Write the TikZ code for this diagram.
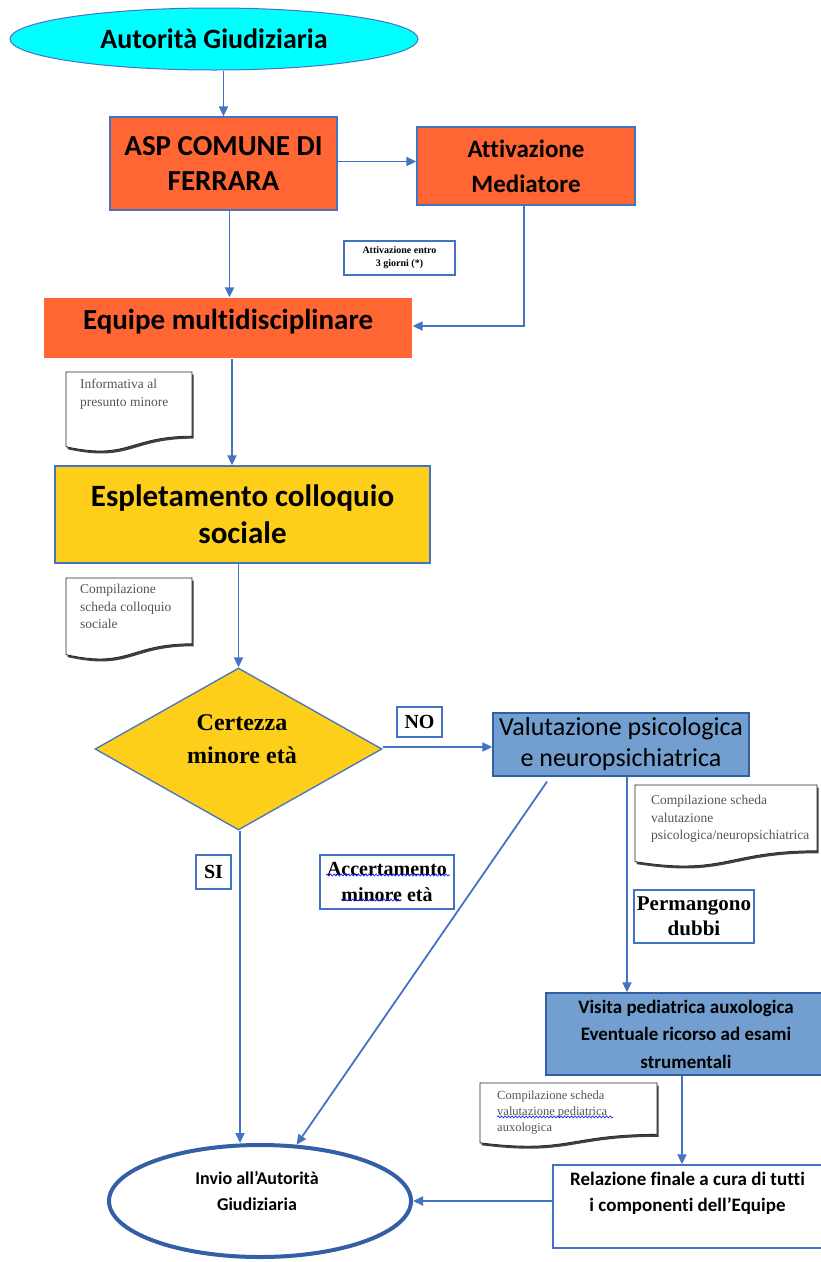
\documentclass[tikz,border=0pt]{standalone}
\usepackage{fontspec}
\setmainfont{Carlito}[Ligatures=NoCommon]
\newfontfamily\tnr{Liberation Serif}
\usetikzlibrary{arrows.meta,shapes.geometric,decorations.pathmorphing,calc}
\definecolor{lineblue}{RGB}{68,114,196}
\definecolor{darkblue}{RGB}{50,95,165}
\definecolor{cyanf}{RGB}{0,255,255}
\definecolor{orangef}{RGB}{255,102,51}
\definecolor{yellowf}{RGB}{253,206,26}
\definecolor{steelf}{RGB}{114,159,207}
\definecolor{doctext}{RGB}{85,85,85}
\definecolor{squigblue}{RGB}{30,40,230}
\newcommand{\fs}[2]{\fontsize{#1}{#2}\selectfont}
\newcommand{\docshape}[4]{%
  \fill[black!75] ({#1+1.5},{#2+2.5}) -- ({#1+#3+1.5},{#2+2.5}) -- ({#1+#3+1.5},{#2+0.802*#4+2.5})
    .. controls ({#1+0.5*#3+1.5},{#2+0.802*#4+2.5}) and ({#1+0.5*#3+1.5},{#2+1.107*#4+2.5}) .. ({#1+1.5},{#2+0.934*#4+2.5}) -- cycle;
  \draw[fill=white, draw=black!85, line width=0.8pt] (#1,#2) -- ({#1+#3},#2) -- ({#1+#3},{#2+0.802*#4})
    .. controls ({#1+0.5*#3},{#2+0.802*#4}) and ({#1+0.5*#3},{#2+1.107*#4}) .. (#1,{#2+0.934*#4}) -- cycle;
}
\tikzset{
  conn/.style={draw=lineblue, line width=1.8pt, -{Triangle[length=10pt,width=9pt]}},
  procbox/.style={draw=lineblue, line width=1.3pt, inner sep=0pt, align=center},
  labelbox/.style={draw=lineblue, line width=1.3pt, fill=white, inner sep=0pt, align=center, font=\tnr\bfseries},
  doctxt/.style={anchor=north west, inner sep=0pt, align=left, text=doctext, font=\tnr\fs{13.5}{17.5}},
  squig/.style={draw=squigblue, line width=0.7pt, decorate, decoration={snake, amplitude=1pt, segment length=3.5pt}}
}
\begin{document}
\begin{tikzpicture}[x=1pt,y=-1pt]
\useasboundingbox (0,0) rectangle (821,1262);
\fill[white] (0,0) rectangle (821,1262);

% main nodes
\node[ellipse, fill=cyanf, draw=lineblue, line width=1pt, minimum width=408, minimum height=62, inner sep=0pt, font=\bfseries\fs{28}{32}] (aut) at (214,39) {Autorità Giudiziaria};
\node[procbox, fill=orangef, minimum width=227, minimum height=93, font=\bfseries\fs{29}{35}] (asp) at (223.5,163.5) {ASP COMUNE DI\\FERRARA};
\node[procbox, fill=orangef, minimum width=218, minimum height=78, font=\bfseries\fs{25}{35}] (med) at (526,166) {Attivazione\\Mediatore};
\node[procbox, draw=none, fill=orangef, minimum width=368, minimum height=60, font=\bfseries\fs{29}{35}] (eq) at (228,328) {};
\node[inner sep=0pt, font=\bfseries\fs{29}{35}] (eqt) at (228,322) {Equipe multidisciplinare};
\node[procbox, fill=yellowf, minimum width=375, minimum height=97, font=\bfseries\fs{31}{37}] (esp) at (242.5,514.5) {Espletamento colloquio\\sociale};
\node[diamond, fill=yellowf, draw=lineblue, line width=1.3pt, minimum width=287, minimum height=162, inner sep=0pt] (dia) at (238.5,749) {};
\node[align=center, inner sep=0pt, font=\tnr\bfseries\fs{24}{33}] (diat) at (242,739) {Certezza\\minore età};
\node[procbox, draw=darkblue, fill=steelf, minimum width=256, minimum height=63, font=\fs{26}{31}] (val) at (621,744.5) {Valutazione psicologica\\e neuropsichiatrica};
\node[procbox, draw=darkblue, fill=steelf, minimum width=280, minimum height=82, font=\bfseries\fs{19}{27.5}] (vis) at (686,1034) {Visita pediatrica auxologica\\Eventuale ricorso ad esami\\strumentali};
\node[procbox, fill=white, minimum width=275, minimum height=83] (rel) at (690.5,1206.5) {};
\node[align=center, inner sep=0pt, font=\bfseries\fs{19}{26}] (relt) at (687.5,1193) {Relazione finale a cura di tutti\\i componenti dell’Equipe};
\node[ellipse, draw=darkblue, line width=4pt, fill=white, minimum width=302, minimum height=112, inner sep=0pt] (inv) at (260,1201) {};
\node[align=center, inner sep=0pt, font=\bfseries\fs{18}{26}] (invt) at (257,1191) {Invio all’Autorità\\Giudiziaria};

% label boxes
\node[labelbox, minimum width=111, minimum height=34, font=\tnr\bfseries\fs{10}{13}] (atd) at (399.5,258) {Attivazione entro\\3 giorni (*)};
\node[labelbox, minimum width=45, minimum height=30, font=\tnr\bfseries\fs{20}{24}] (no) at (419.5,722) {NO};
\node[labelbox, minimum width=35, minimum height=34, font=\tnr\bfseries\fs{20}{24}] (si) at (213.5,872) {SI};
\node[labelbox, minimum width=134, minimum height=54, font=\tnr\bfseries\fs{20}{26}] (acc) at (387,882) {Accertamento\\minore età};
\node[labelbox, minimum width=120, minimum height=53, font=\tnr\bfseries\fs{21}{25}] (perm) at (694,916.5) {Permangono\\dubbi};

% squiggly underlines
\draw[squig] ($(acc.center)+(-61,-7)$) -- ($(acc.center)+(63,-7)$);
\draw[squig] ($(acc.center)+(-46,18)$) -- ($(acc.center)+(15,18)$);

% documents
\docshape{66}{372}{126}{80}
\node[doctxt] (d1) at (80,379) {Informativa al\\presunto minore};
\docshape{66}{578}{126}{82}
\node[doctxt] (d2) at (80,584) {Compilazione\\scheda colloquio\\sociale};
\docshape{635}{785}{182}{82}
\node[doctxt] (d3) at (651,795) {Compilazione scheda\\valutazione\\psicologica/neuropsichiatrica};
\docshape{480}{1083}{177}{64}
\node[doctxt, font=\tnr\fs{12.5}{16}] (d4) at (497,1091) {Compilazione scheda\\valutazione pediatrica\\auxologica};
\draw[squig] ($(d4.west)+(0,4)$) -- ($(d4.west)+(116,4)$);

% connectors
\draw[conn] (asp.north |- aut.south) -- (asp.north);
\draw[conn] ([yshift=2pt]asp.east) -- ([yshift=2pt]asp.east -| med.west);
\draw[conn] ([xshift=6pt]asp.south) -- ([xshift=6pt]asp.south |- eq.north);
\draw[conn] ([xshift=-2pt]med.south) |- ([yshift=2pt]eq.east);
\draw[conn] ([xshift=4pt]eq.south) -- ([xshift=4pt]eq.south |- esp.north);
\draw[conn] (dia.north |- esp.south) -- (dia.north);
\draw[conn] ([yshift=2pt]dia.east) -- ([yshift=2pt]dia.east -| val.west);
\draw[conn] ([xshift=1.5pt]dia.south) -- ([xshift=1.5pt]dia.south |- inv.north);
\draw[conn] ([xshift=-74pt,yshift=-5pt]val.south) -- (inv.57);
\draw[conn] ([xshift=6pt]val.south) -- ([xshift=6pt]val.south |- vis.north);
\draw[conn] ([xshift=-4pt]vis.south) -- ([xshift=-4pt]vis.south |- rel.north);
\draw[conn] (rel.west |- inv.east) -- (inv.east);
\end{tikzpicture}
\end{document}
